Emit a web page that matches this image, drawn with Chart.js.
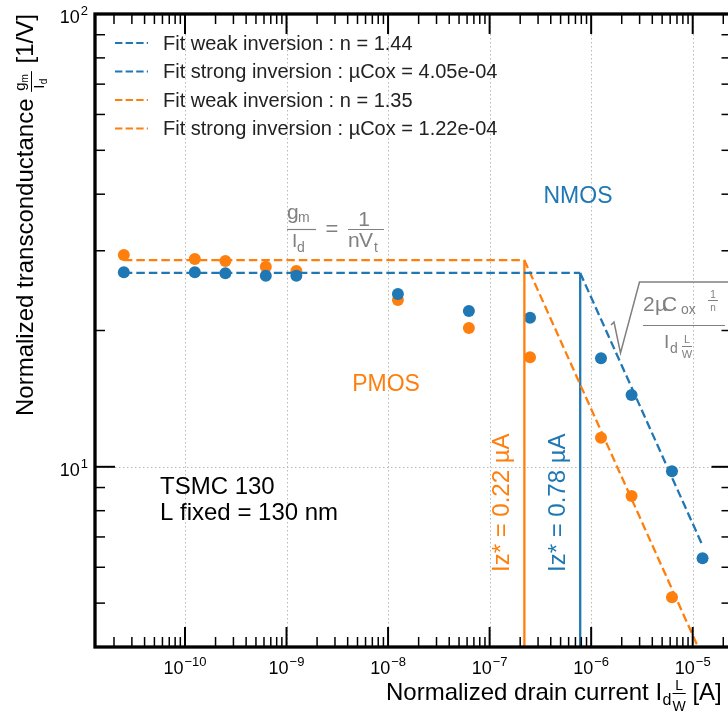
<!DOCTYPE html>
<html>
<head>
<meta charset="utf-8">
<style>
  html, body { margin: 0; padding: 0; background: #fff; overflow: hidden; }
  canvas { display: block; }
</style>
<script src="https://cdn.jsdelivr.net/npm/chart.js@4.4.1/dist/chart.umd.min.js"></script>
</head>
<body>
<canvas id="grafico" width="745" height="720"></canvas>
<script>
// Normalized drain current I_d*L/W [A]
const correntes = [2.5e-11, 1.25e-10, 2.5e-10, 6.25e-10, 1.25e-9, 1.25e-8, 6.25e-8, 2.5e-7, 1.25e-6, 2.5e-6, 6.25e-6, 1.25e-5];

// Measured gm/Id [1/V]
const nmosGmId = [26.88, 26.88, 26.75, 26.42, 26.42, 24.07, 22.08, 21.34, 17.36, 14.40, 9.78, 6.28];
const pmosGmId = [29.36, 28.77, 28.48, 27.66, 27.06, 23.35, 20.25, 17.45, 11.59, 8.62, 5.15];

// Fit lines (end points)
const nmosWeakX = [2.5e-11, 7.8e-7];
const nmosWeakY = [26.8, 26.8];
const nmosStrongX = [7.8e-7, 1.25e-5];
const nmosStrongY = [26.8, 6.7];
const pmosWeakX = [2.5e-11, 2.2e-7];
const pmosWeakY = [28.6, 28.6];
const pmosStrongX = [2.2e-7, 1.25e-5];
const pmosStrongY = [28.6, 3.8];

// Iz* markers
const izX = [7.8e-7, 2.2e-7];
const izTop = [26.8, 28.6];
const izLabels = ["Iz* = 0.78 \u00b5A", "Iz* = 0.22 \u00b5A"];

// Tick labels (decade exponents)
const xExpoentes = [-10, -9, -8, -7, -6, -5];
const yExpoentes = [1, 2];

// Legend
const legendaTextos = [
  "Fit weak inversion : n = 1.44",
  "Fit strong inversion : \u00b5Cox = 4.05e-04",
  "Fit weak inversion : n = 1.35",
  "Fit strong inversion : \u00b5Cox = 1.22e-04"
];

const AZUL = "#1f77b4";
const LARANJA = "#ff7f0e";
const CINZA = "#808080";
const FONTE = '"Liberation Sans", Arial, sans-serif';
const legendaCores = [AZUL, AZUL, LARANJA, LARANJA];

function fonte(tamanho) { return tamanho + "px " + FONTE; }

function pares(xs, ys) { return xs.map((x, i) => ({ x: x, y: ys[i] })); }

function linha(ctx, x1, y1, x2, y2) {
  ctx.beginPath();
  ctx.moveTo(x1, y1);
  ctx.lineTo(x2, y2);
  ctx.stroke();
}

// "10" with a superscript exponent
function potencia(ctx, exp, x, base, alinhamento) {
  const e = String(exp).replace("-", "\u2212");
  ctx.font = fonte(18);
  const w1 = ctx.measureText("10").width;
  ctx.font = fonte(13);
  const w2 = ctx.measureText(e).width;
  const esquerda = alinhamento === "center" ? x - (w1 + w2 + 1) / 2 : x - w1 - w2 - 1;
  ctx.textAlign = "left";
  ctx.font = fonte(18);
  ctx.fillText("10", esquerda, base);
  ctx.font = fonte(13);
  ctx.fillText(e, esquerda + w1 + 1, base - 8);
}

function texto(ctx, t, x, y, tamanho, cor, alinhamento) {
  ctx.font = fonte(tamanho);
  ctx.fillStyle = cor;
  ctx.textAlign = alinhamento || "left";
  ctx.fillText(t, x, y);
  return ctx.measureText(t).width;
}

const decoracao = {
  id: "decoracao",
  beforeDatasetsDraw(chart) {
    const { ctx, chartArea: a, scales: { x, y } } = chart;
    ctx.save();
    ctx.strokeStyle = "#b8b8b8";
    ctx.lineWidth = 1;
    ctx.setLineDash([1.5, 2.5]);
    xExpoentes.forEach(d => {
      const px = Math.round(x.getPixelForValue(Math.pow(10, d))) + 0.5;
      linha(ctx, px, a.top, px, a.bottom);
    });
    const py = Math.round(y.getPixelForValue(10)) + 0.5;
    linha(ctx, a.left, py, a.right, py);
    ctx.restore();
  },
  afterDatasetsDraw(chart) {
    const { ctx, chartArea: a, scales: { x, y } } = chart;
    ctx.save();
    ctx.strokeStyle = "#000";
    ctx.fillStyle = "#000";
    ctx.textBaseline = "alphabetic";

    // Ticks pointing inwards on all four sides
    for (let d = -12; d <= -4; d++) {
      for (let m = 1; m <= 9; m++) {
        const v = m * Math.pow(10, d);
        if (v < x.min || v > x.max) continue;
        const px = x.getPixelForValue(v);
        const comp = m === 1 ? 20 : 10;
        ctx.lineWidth = m === 1 ? 2 : 1.5;
        linha(ctx, px, a.bottom, px, a.bottom - comp);
        linha(ctx, px, a.top, px, a.top + comp);
      }
    }
    for (let d = 0; d <= 2; d++) {
      for (let m = 1; m <= 9; m++) {
        const v = m * Math.pow(10, d);
        if (v < y.min || v > y.max) continue;
        const py = y.getPixelForValue(v);
        const comp = m === 1 ? 20 : 10;
        ctx.lineWidth = m === 1 ? 2 : 1.5;
        linha(ctx, a.left, py, a.left + comp, py);
        linha(ctx, a.right, py, a.right - comp, py);
      }
    }

    // Frame
    ctx.lineWidth = 3.3;
    ctx.strokeRect(a.left, a.top, a.right - a.left, a.bottom - a.top);

    // Tick labels
    ctx.fillStyle = "#000";
    xExpoentes.forEach(d => potencia(ctx, d, x.getPixelForValue(Math.pow(10, d)), 674, "center"));
    yExpoentes.forEach(d => potencia(ctx, d, 88, y.getPixelForValue(Math.pow(10, d)) + 9, "right"));

    // X axis title
    let cx = 386;
    cx += texto(ctx, "Normalized drain current ", cx, 700, 24, "#000");
    cx += texto(ctx, "I", cx, 700, 24, "#000");
    cx += texto(ctx, "d", cx + 0.5, 705, 16, "#000") + 1.5;
    ctx.font = fonte(14);
    const wW = ctx.measureText("W").width;
    texto(ctx, "L", cx + wW / 2, 690, 14, "#000", "center");
    texto(ctx, "W", cx + wW / 2, 711, 14, "#000", "center");
    ctx.lineWidth = 1;
    linha(ctx, cx, 693.5, cx + wW, 693.5);
    cx += wW;
    texto(ctx, " [A]", cx, 700, 24, "#000");

    // Y axis title (rotated)
    ctx.save();
    ctx.translate(33, 416);
    ctx.rotate(-Math.PI / 2);
    let u = texto(ctx, "Normalized transconductance ", 0, 0, 24, "#000");
    const u0 = u;
    u += texto(ctx, "g", u + 1, -8, 15, "#000") + 1;
    const wNum = u - u0 + texto(ctx, "m", u, -5, 10, "#000");
    ctx.font = fonte(15);
    const wDen = ctx.measureText("I").width + 8;
    texto(ctx, "I", u0 + 3, 11, 15, "#000");
    texto(ctx, "d", u0 + 3 + ctx.measureText("I").width + 0.5, 14, 10, "#000");
    const wFrac = Math.max(wNum, wDen) + 3;
    ctx.lineWidth = 1;
    linha(ctx, u0, -1.5, u0 + wFrac, -1.5);
    texto(ctx, " [1/V]", u0 + wFrac + 1, 0, 24, "#000");
    ctx.restore();

    // Legend
    legendaTextos.forEach((t, i) => {
      const ly = 43 + i * 28.5;
      ctx.strokeStyle = legendaCores[i];
      ctx.lineWidth = 2;
      ctx.setLineDash([7.4, 3.2]);
      linha(ctx, 115, ly, 148, ly);
      ctx.setLineDash([]);
      ctx.textBaseline = "middle";
      texto(ctx, t, 163, ly + 1, 20, "#222");
      ctx.textBaseline = "alphabetic";
    });

    // Annotations
    texto(ctx, "NMOS", 578, 203, 23, AZUL, "center");
    texto(ctx, "PMOS", 386, 391, 23, LARANJA, "center");
    texto(ctx, "TSMC 130", 160, 494, 24, "#000");
    texto(ctx, "L fixed = 130 nm", 160, 520, 24, "#000");

    // Iz* labels, rotated
    const izCores = [AZUL, LARANJA];
    izX.forEach((v, i) => {
      const px = x.getPixelForValue(v) - 15;
      ctx.save();
      ctx.translate(px, 572);
      ctx.rotate(-Math.PI / 2);
      texto(ctx, izLabels[i], 0, 0, 24, izCores[i]);
      ctx.restore();
    });

    // gm/Id = 1/(n Vt)
    ctx.strokeStyle = CINZA;
    ctx.lineWidth = 1.2;
    texto(ctx, "g", 287, 219, 21, CINZA);
    texto(ctx, "m", 298, 222, 14, CINZA);
    linha(ctx, 287, 229.5, 316, 229.5);
    texto(ctx, "I", 292, 247, 19, CINZA);
    texto(ctx, "d", 297, 252, 14, CINZA);
    texto(ctx, "=", 332, 236, 22, CINZA, "center");
    texto(ctx, "1", 364, 226, 21, CINZA, "center");
    linha(ctx, 348, 229.5, 384, 229.5);
    texto(ctx, "n", 348, 247, 21, CINZA);
    texto(ctx, "V", 359, 247, 21, CINZA);
    texto(ctx, "t", 374, 252, 14, CINZA);

    // sqrt(2 mu Cox / n / (Id L/W))
    ctx.lineWidth = 1.5;
    ctx.beginPath();
    ctx.moveTo(611, 325);
    ctx.lineTo(614, 322);
    ctx.lineTo(620.5, 353);
    ctx.lineTo(639.5, 282);
    ctx.lineTo(740, 282);
    ctx.stroke();
    texto(ctx, "2", 643, 311, 21, CINZA);
    texto(ctx, "\u00b5", 655, 311, 21, CINZA);
    texto(ctx, "C", 662, 311, 21, CINZA);
    texto(ctx, "ox", 681, 314, 14, CINZA);
    texto(ctx, "1", 713, 298, 10, CINZA, "center");
    ctx.lineWidth = 1;
    linha(ctx, 708, 300.5, 718, 300.5);
    texto(ctx, "n", 713, 311, 10, CINZA, "center");
    ctx.lineWidth = 1.2;
    linha(ctx, 643, 325.5, 725, 325.5);
    texto(ctx, "I", 664, 348, 19, CINZA);
    texto(ctx, "d", 670, 353, 14, CINZA);
    texto(ctx, "L", 687, 343, 11, CINZA, "center");
    ctx.lineWidth = 1;
    linha(ctx, 682, 346.5, 692, 346.5);
    texto(ctx, "W", 687, 358, 11, CINZA, "center");

    ctx.restore();
  }
};

function linhaFit(xs, ys, cor, tracejado) {
  return {
    data: pares(xs, ys),
    showLine: true,
    borderColor: cor,
    borderWidth: 2.3,
    borderDash: tracejado ? [8.5, 4] : [],
    pointRadius: 0,
    fill: false
  };
}

function pontos(xs, ys, cor) {
  return {
    data: pares(xs, ys),
    showLine: false,
    pointRadius: 6,
    pointBackgroundColor: cor,
    pointBorderWidth: 0,
    borderColor: cor
  };
}

const ctx = document.getElementById("grafico").getContext("2d");

new Chart(ctx,
{
  type: "scatter",
  data:
  {
    datasets: [
      linhaFit(nmosWeakX, nmosWeakY, AZUL, true),
      linhaFit(nmosStrongX, nmosStrongY, AZUL, true),
      linhaFit(pmosWeakX, pmosWeakY, LARANJA, true),
      linhaFit(pmosStrongX, pmosStrongY, LARANJA, true),
      linhaFit([izX[0], izX[0]], [4, izTop[0]], AZUL, false),
      linhaFit([izX[1], izX[1]], [4, izTop[1]], LARANJA, false),
      pontos(correntes, nmosGmId, AZUL),
      pontos(correntes.slice(0, pmosGmId.length), pmosGmId, LARANJA)
    ]
  },
  options:
  {
    responsive: false,
    animation: false,
    devicePixelRatio: 1,
    layout: { padding: { left: 95, top: 14, right: 745 - 731.5, bottom: 73 } },
    plugins:
    {
      legend: { display: false },
      tooltip: { enabled: false }
    },
    scales:
    {
      x: { type: "logarithmic", min: 1.3e-11, max: 2.41e-5, display: false },
      y: { type: "logarithmic", min: 4, max: 100, display: false }
    }
  },
  plugins: [decoracao]
});
</script>
</body>
</html>
